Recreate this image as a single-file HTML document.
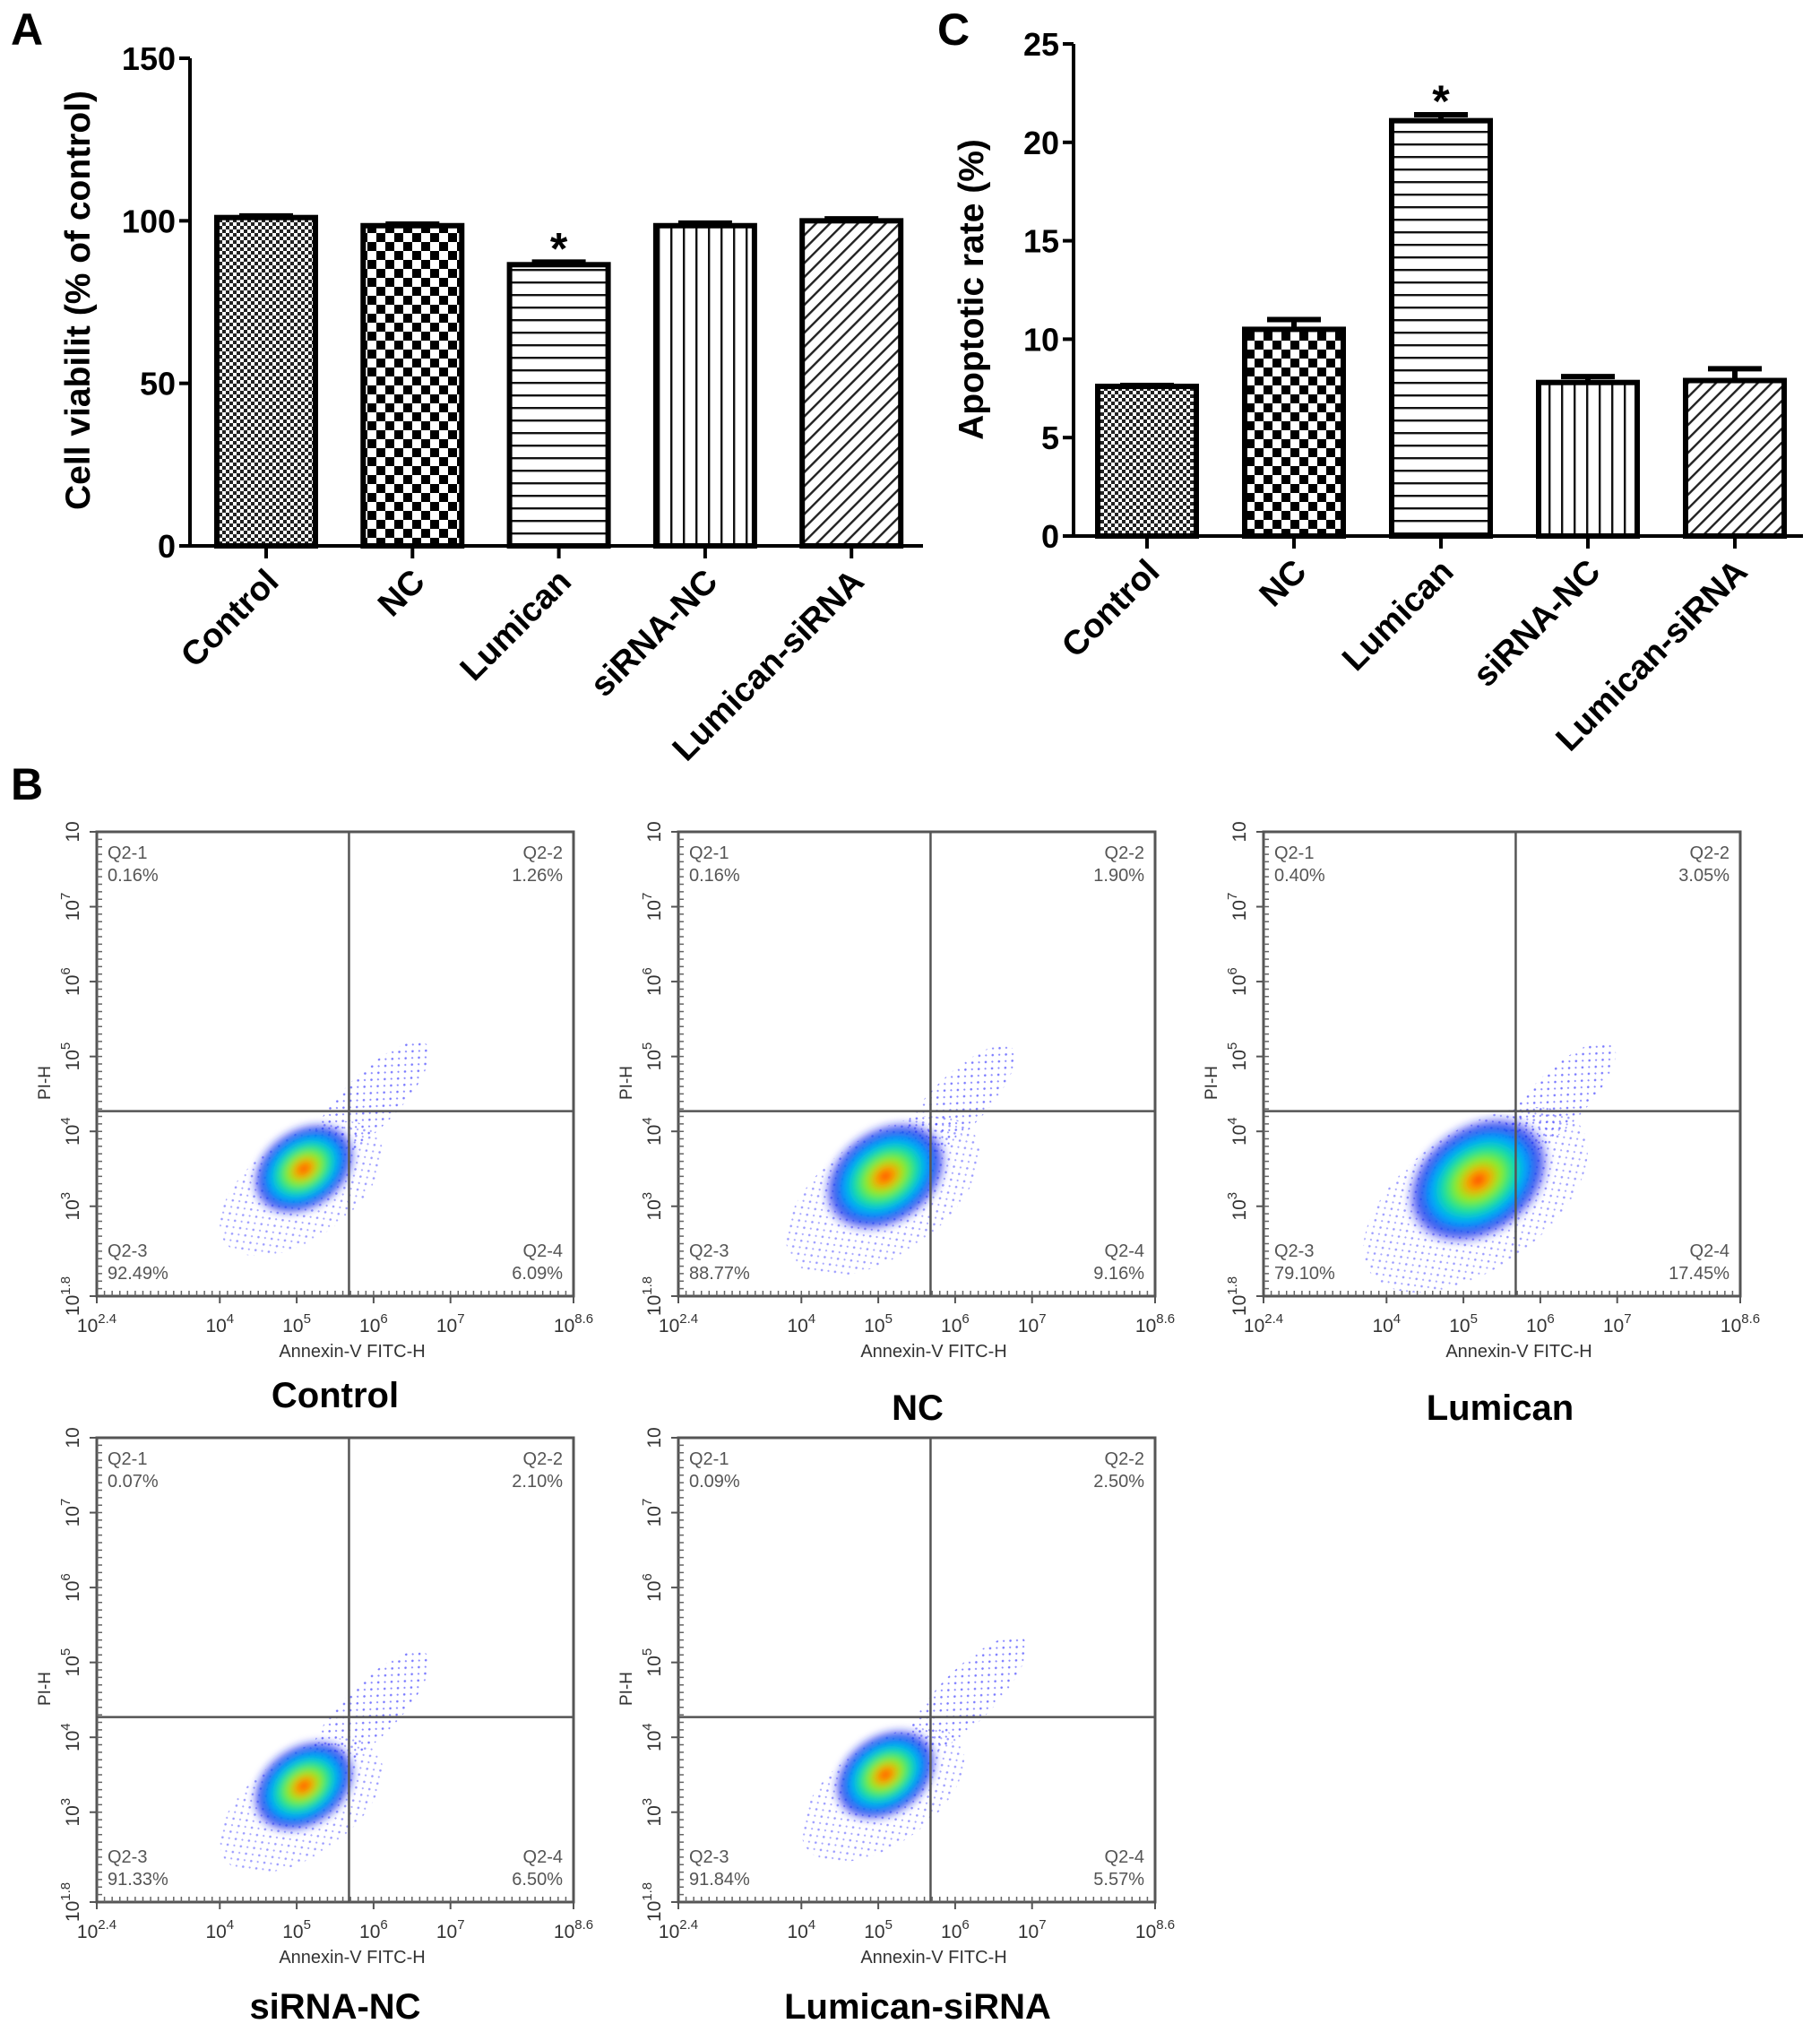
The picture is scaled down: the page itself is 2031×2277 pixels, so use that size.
<!DOCTYPE html>
<html><head><meta charset="utf-8"><style>
html,body{margin:0;padding:0;background:#fff}
svg{display:block;font-family:"Liberation Sans",Arial,sans-serif}
</style></head><body>
<svg id="fig" width="2031" height="2277" viewBox="0 0 2031 2277" xmlns="http://www.w3.org/2000/svg">
<defs>
 <pattern id="pFine" width="8" height="8" patternUnits="userSpaceOnUse"><rect width="8" height="8" fill="#fff"/><rect width="4" height="4" fill="#222"/><rect x="4" y="4" width="4" height="4" fill="#222"/></pattern>
 <pattern id="pChk" width="20" height="20" patternUnits="userSpaceOnUse"><rect width="20" height="20" fill="#fff"/><rect width="10" height="10" fill="#000"/><rect x="10" y="10" width="10" height="10" fill="#000"/></pattern>
 <pattern id="pHor" width="20" height="14" patternUnits="userSpaceOnUse"><rect width="20" height="14" fill="#fff"/><rect y="6" width="20" height="2.4" fill="#111"/></pattern>
 <pattern id="pVer" width="14" height="20" patternUnits="userSpaceOnUse"><rect width="14" height="20" fill="#fff"/><rect x="6" width="2.4" height="20" fill="#111"/></pattern>
 <pattern id="pDia" width="11" height="11" patternUnits="userSpaceOnUse" patternTransform="rotate(45)"><rect width="11" height="11" fill="#fff"/><rect x="5" width="2.4" height="11" fill="#222"/></pattern>
 <pattern id="pDots" width="11" height="10" patternUnits="userSpaceOnUse"><circle cx="2" cy="3" r="1.3" fill="#2020ff"/><circle cx="7.5" cy="8" r="1.1" fill="#4040ff"/></pattern>
 <radialGradient id="gCore">
  <stop offset="0" stop-color="#ff3000"/><stop offset="0.14" stop-color="#ffa000"/>
  <stop offset="0.3" stop-color="#90ee20"/><stop offset="0.48" stop-color="#10e0a0"/>
  <stop offset="0.64" stop-color="#00a8ff"/><stop offset="0.82" stop-color="#1028e8" stop-opacity="0.8"/>
  <stop offset="1" stop-color="#2020ff" stop-opacity="0"/>
 </radialGradient>
 <filter id="blur"><feGaussianBlur stdDeviation="4"/></filter>
</defs>
<text x="12" y="50" font-size="50" font-weight="bold">A</text>
<text x="1046" y="50" font-size="50" font-weight="bold">C</text>
<text x="12" y="892" font-size="50" font-weight="bold">B</text>
<text transform="translate(100,335) rotate(-90)" text-anchor="middle" font-size="39" font-weight="bold">Cell viabilit (% of control)</text>
<text transform="translate(1097,323) rotate(-90)" text-anchor="middle" font-size="39" font-weight="bold">Apoptotic rate (%)</text>
</svg>
<script>
// ---- Panel A data ----
const catsA = ["Control","NC","Lumican","siRNA-NC","Lumican-siRNA"];
const valsA = [101, 98.5, 86.5, 98.5, 100];
const errsA = [0.5, 0.5, 0.8, 0.8, 0.6];
const ticksA = [0, 50, 100, 150];
const starA = [false, false, true, false, false];
// ---- Panel C data ----
const catsC = ["Control","NC","Lumican","siRNA-NC","Lumican-siRNA"];
const valsC = [7.6, 10.5, 21.1, 7.8, 7.9];
const errsC = [0.05, 0.5, 0.3, 0.3, 0.6];
const ticksC = [0, 5, 10, 15, 20, 25];
const starC = [false, false, true, false, false];
// ---- Panel B data ----
const flowNames = ["Control","NC","Lumican","siRNA-NC","Lumican-siRNA"];
const q1Vals = ["0.16%","0.16%","0.40%","0.07%","0.09%"];
const q2Vals = ["1.26%","1.90%","3.05%","2.10%","2.50%"];
const q3Vals = ["92.49%","88.77%","79.10%","91.33%","91.84%"];
const q4Vals = ["6.09%","9.16%","17.45%","6.50%","5.57%"];
const blobX = [5.0, 5.0, 5.1, 5.0, 5.0];
const blobY = [3.5, 3.4, 3.35, 3.35, 3.5];
const blobSize = [0.8, 0.95, 1.1, 0.8, 0.8];
const tailX = [5.95, 6.0, 6.2, 5.95, 6.15];
const tailY = [4.4, 4.35, 4.4, 4.35, 4.55];
const xTickLog = [2.4, 4, 5, 6, 7, 8.6];
const yTickLog = [1.8, 3, 4, 5, 6, 7, 8];
const gateX = 5.68, gateY = 4.27;

const NS = "http://www.w3.org/2000/svg";
const svg = document.getElementById('fig');
function mk(tag, attrs, parent){
  const e = document.createElementNS(NS, tag);
  for (const k in attrs) e.setAttribute(k, attrs[k]);
  (parent || svg).appendChild(e);
  return e;
}
const patterns = ["url(#pFine)","url(#pChk)","url(#pHor)","url(#pVer)","url(#pDia)"];

function barChart(cats, vals, errs, ticks, stars, geo, tag){
  const y = v => geo.y0 - (v / geo.vmax) * (geo.y0 - geo.yTop);
  const g = mk('g', {});
  
  
  cats.forEach((c, i) => {
    const cx = geo.x0 + i * geo.step;
    const top = y(vals[i]);
    const bar = mk('rect', {x: cx - geo.bw/2, y: top, width: geo.bw, height: geo.y0 - top, fill: patterns[i], stroke: '#000', 'stroke-width': 6}, g);
    
    
    const et = y(vals[i] + errs[i]);
    const eb = mk('path', {d: `M${cx} ${top} V${et} M${cx-30} ${et} H${cx+30}`, stroke: '#000', 'stroke-width': 6, fill: 'none'}, g);
    
    
    const tk = mk('line', {x1: cx, x2: cx, y1: geo.y0, y2: geo.y0 + 14, stroke: '#000', 'stroke-width': 4}, g);
    
    
    const lb = mk('text', {transform: `translate(${cx + 16},${geo.y0 + 42}) rotate(-45)`, 'text-anchor': 'end', 'font-size': 38, 'font-weight': 'bold'}, g);
    lb.textContent = c;
    
    
    if (stars[i]) {
      const st = mk('text', {x: cx, y: et + 2, 'text-anchor': 'middle', 'font-size': 50, 'font-weight': 'bold'}, g);
      st.textContent = '*';
      
      
    }
  });
  const ax = mk('path', {d: `M${geo.ax} ${geo.yTop} V${geo.y0} H${geo.xEnd}`, stroke: '#000', 'stroke-width': 4, fill: 'none'}, g);
  
  
  ticks.forEach(t => {
    const ty = y(t);
    const l = mk('line', {x1: geo.ax - 12, x2: geo.ax, y1: ty, y2: ty, stroke: '#000', 'stroke-width': 4}, g);
    
    
    const tx = mk('text', {x: geo.ax - 16, y: ty + 13, 'text-anchor': 'end', 'font-size': 36, 'font-weight': 'bold'}, g);
    tx.textContent = t;
    
    
  });
}
barChart(catsA, valsA, errsA, ticksA, starA, {x0: 297, step: 163.3, bw: 110, y0: 609, yTop: 65, vmax: 150, ax: 212, xEnd: 1030}, 'a');
barChart(catsC, valsC, errsC, ticksC, starC, {x0: 1280, step: 164, bw: 110, y0: 598, yTop: 49, vmax: 25, ax: 1198, xEnd: 2012}, 'c');

// ---- Flow cytometry plots ----
const panels = [{x:108,y:928,tx:374,ty:1570},{x:757,y:928,tx:1024,ty:1584},{x:1410,y:928,tx:1674,ty:1584},{x:108,y:1604,tx:374,ty:2252},{x:757,y:1604,tx:1024,ty:2252}];
const PW = 532, PH = 518;
flowNames.forEach((nm, i) => {
  const p = panels[i];
  const sx = v => p.x + (v - 2.4) / 6.2 * PW;
  const sy = v => p.y + PH - (v - 1.8) / 6.2 * PH;
  const g = mk('g', {});
  
  
  const cp = mk('clipPath', {id: 'clip' + i}, g);
  mk('rect', {x: p.x, y: p.y, width: PW, height: PH}, cp);
  const dg = mk('g', {'clip-path': `url(#clip${i})`}, g);
  const bx = sx(blobX[i]), by = sy(blobY[i]), s = blobSize[i];
  const tl = mk('ellipse', {cx: sx(tailX[i]), cy: sy(tailY[i]), rx: 90, ry: 30, fill: 'url(#pDots)', opacity: 0.6, transform: `rotate(-45 ${sx(tailX[i])} ${sy(tailY[i])})`}, dg);
  
  
  const sc = mk('ellipse', {cx: bx + 5, cy: by + 22, rx: 130 * s, ry: 70 * s, fill: 'url(#pDots)', opacity: 0.45, transform: `rotate(-35 ${bx + 5} ${by + 22})`}, dg);
  
  
  const core = mk('ellipse', {cx: bx + 8, cy: by, rx: 80 * s, ry: 58 * s, fill: 'url(#gCore)', filter: 'url(#blur)', transform: `rotate(-35 ${bx + 8} ${by})`}, dg);
  
  
  const gate = mk('path', {d: `M${sx(gateX)} ${p.y} V${p.y + PH} M${p.x} ${sy(gateY)} H${p.x + PW}`, stroke: '#555', 'stroke-width': 2.5, fill: 'none'}, g);
  
  
  const fr = mk('rect', {x: p.x, y: p.y, width: PW, height: PH, fill: 'none', stroke: '#555', 'stroke-width': 3}, g);
  
  
  let d = '';
  for (let k = 1; k < 62; k++) { const xx = p.x + k * PW / 62; d += `M${xx} ${p.y + PH} v-6 `; const yy = p.y + k * PH / 62; d += `M${p.x} ${yy} h6 `; }
  const mt = mk('path', {d: d, stroke: '#666', 'stroke-width': 1.5}, g);
  
  
  const quad = [[q1Vals[i], 'Q2-1', p.x + 12, p.y + 30, 'start'], [q2Vals[i], 'Q2-2', p.x + PW - 12, p.y + 30, 'end'], [q3Vals[i], 'Q2-3', p.x + 12, p.y + PH - 44, 'start'], [q4Vals[i], 'Q2-4', p.x + PW - 12, p.y + PH - 44, 'end']];
  quad.forEach(q => {
    const t1 = mk('text', {x: q[2], y: q[3], 'text-anchor': q[4], 'font-size': 20, fill: '#555'}, g);
    t1.textContent = q[1];
    
    
    const t2 = mk('text', {x: q[2], y: q[3] + 25, 'text-anchor': q[4], 'font-size': 20, fill: '#555'}, g);
    t2.textContent = q[0];
    
    
  });
  xTickLog.forEach(v => {
    const xx = sx(v);
    const l = mk('line', {x1: xx, x2: xx, y1: p.y + PH, y2: p.y + PH + 8, stroke: '#555', 'stroke-width': 2}, g);
    
    
    const t = mk('text', {x: xx, y: p.y + PH + 40, 'text-anchor': 'middle', 'font-size': 21, fill: '#333'}, g);
    t.innerHTML = `10<tspan dy="-10" font-size="15">${v}</tspan>`;
    
    
  });
  yTickLog.forEach(v => {
    const yy = sy(v);
    const l = mk('line', {x1: p.x - 8, x2: p.x, y1: yy, y2: yy, stroke: '#555', 'stroke-width': 2}, g);
    
    
    const t = mk('text', {transform: `translate(${p.x - 20},${yy}) rotate(-90)`, 'text-anchor': 'middle', 'font-size': 21, fill: '#333'}, g);
    t.innerHTML = v === 8 ? '10' : `10<tspan dy="-10" font-size="15">${v}</tspan>`;
    
    
  });
  const yl = mk('text', {transform: `translate(${p.x - 52},${p.y + 280}) rotate(-90)`, 'text-anchor': 'middle', 'font-size': 19, fill: '#333'}, g);
  yl.textContent = 'PI-H';
  
  
  const xl = mk('text', {x: p.x + 285, y: p.y + PH + 68, 'text-anchor': 'middle', 'font-size': 20, fill: '#333'}, g);
  xl.textContent = 'Annexin-V FITC-H';
  
  
  const tt = mk('text', {x: p.tx, y: p.ty, 'text-anchor': 'middle', 'font-size': 40, 'font-weight': 'bold'}, g);
  tt.textContent = nm;
  
  
});
</script>
</body></html>
